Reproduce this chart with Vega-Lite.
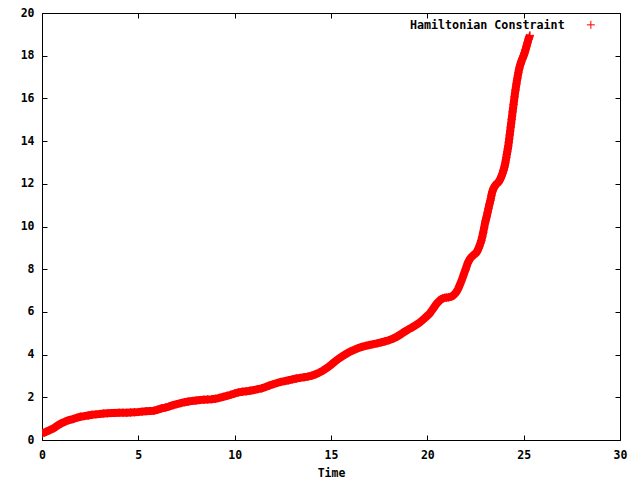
{
  "$schema": "https://vega.github.io/schema/vega-lite/v6.json",
  "autosize": "none",
  "width": 578,
  "height": 427,
  "padding": {"left": 42, "top": 13, "right": 20, "bottom": 40},
  "background": "white",
  "config": {
    "view": {"stroke": "black", "strokeWidth": 1},
    "axis": {"grid": false}
  },
  "data": {
    "values": [
      {"t": 0.0, "v": 0.30}, {"t": 0.2, "v": 0.38}, {"t": 0.4, "v": 0.46}, {"t": 0.6, "v": 0.55}, {"t": 0.8, "v": 0.67},
      {"t": 1.0, "v": 0.78}, {"t": 1.2, "v": 0.86}, {"t": 1.4, "v": 0.93}, {"t": 1.6, "v": 0.98}, {"t": 1.8, "v": 1.04},
      {"t": 2.0, "v": 1.09}, {"t": 2.2, "v": 1.12}, {"t": 2.4, "v": 1.15}, {"t": 2.6, "v": 1.18}, {"t": 2.8, "v": 1.20},
      {"t": 3.0, "v": 1.22}, {"t": 3.2, "v": 1.24}, {"t": 3.4, "v": 1.25}, {"t": 3.6, "v": 1.26}, {"t": 3.8, "v": 1.27},
      {"t": 4.0, "v": 1.28}, {"t": 4.2, "v": 1.28}, {"t": 4.4, "v": 1.28}, {"t": 4.6, "v": 1.29}, {"t": 4.8, "v": 1.30},
      {"t": 5.0, "v": 1.31}, {"t": 5.2, "v": 1.33}, {"t": 5.4, "v": 1.35}, {"t": 5.6, "v": 1.36}, {"t": 5.8, "v": 1.37},
      {"t": 6.0, "v": 1.42}, {"t": 6.2, "v": 1.48}, {"t": 6.4, "v": 1.52}, {"t": 6.6, "v": 1.57}, {"t": 6.8, "v": 1.63},
      {"t": 7.0, "v": 1.68}, {"t": 7.2, "v": 1.73}, {"t": 7.4, "v": 1.77}, {"t": 7.6, "v": 1.80}, {"t": 7.8, "v": 1.83},
      {"t": 8.0, "v": 1.85}, {"t": 8.2, "v": 1.87}, {"t": 8.4, "v": 1.89}, {"t": 8.6, "v": 1.90}, {"t": 8.8, "v": 1.91},
      {"t": 9.0, "v": 1.93}, {"t": 9.2, "v": 1.97}, {"t": 9.4, "v": 2.02}, {"t": 9.6, "v": 2.07}, {"t": 9.8, "v": 2.12},
      {"t": 10.0, "v": 2.18}, {"t": 10.2, "v": 2.23}, {"t": 10.4, "v": 2.26}, {"t": 10.6, "v": 2.28}, {"t": 10.8, "v": 2.31},
      {"t": 11.0, "v": 2.34}, {"t": 11.2, "v": 2.38}, {"t": 11.4, "v": 2.42}, {"t": 11.6, "v": 2.48}, {"t": 11.8, "v": 2.55},
      {"t": 12.0, "v": 2.61}, {"t": 12.2, "v": 2.67}, {"t": 12.4, "v": 2.72}, {"t": 12.6, "v": 2.76}, {"t": 12.8, "v": 2.80},
      {"t": 13.0, "v": 2.84}, {"t": 13.2, "v": 2.88}, {"t": 13.4, "v": 2.91}, {"t": 13.6, "v": 2.94}, {"t": 13.8, "v": 2.97},
      {"t": 14.0, "v": 3.01}, {"t": 14.2, "v": 3.08}, {"t": 14.4, "v": 3.16}, {"t": 14.6, "v": 3.26}, {"t": 14.8, "v": 3.38},
      {"t": 15.0, "v": 3.52}, {"t": 15.2, "v": 3.67}, {"t": 15.4, "v": 3.81}, {"t": 15.6, "v": 3.93}, {"t": 15.8, "v": 4.04},
      {"t": 16.0, "v": 4.14}, {"t": 16.2, "v": 4.22}, {"t": 16.4, "v": 4.30}, {"t": 16.6, "v": 4.36}, {"t": 16.8, "v": 4.41},
      {"t": 17.0, "v": 4.45}, {"t": 17.2, "v": 4.49}, {"t": 17.4, "v": 4.53}, {"t": 17.6, "v": 4.57}, {"t": 17.8, "v": 4.62},
      {"t": 18.0, "v": 4.67}, {"t": 18.2, "v": 4.74}, {"t": 18.4, "v": 4.83}, {"t": 18.6, "v": 4.94}, {"t": 18.8, "v": 5.06},
      {"t": 19.0, "v": 5.17}, {"t": 19.2, "v": 5.27}, {"t": 19.4, "v": 5.38}, {"t": 19.6, "v": 5.50}, {"t": 19.8, "v": 5.65},
      {"t": 20.0, "v": 5.82}, {"t": 20.1, "v": 5.90}, {"t": 20.2, "v": 6.02}, {"t": 20.3, "v": 6.15}, {"t": 20.4, "v": 6.28},
      {"t": 20.5, "v": 6.40}, {"t": 20.6, "v": 6.50}, {"t": 20.7, "v": 6.58}, {"t": 20.8, "v": 6.63}, {"t": 20.9, "v": 6.66},
      {"t": 21.0, "v": 6.67}, {"t": 21.1, "v": 6.68}, {"t": 21.2, "v": 6.70}, {"t": 21.3, "v": 6.74}, {"t": 21.4, "v": 6.82},
      {"t": 21.5, "v": 6.92}, {"t": 21.6, "v": 7.08}, {"t": 21.7, "v": 7.30}, {"t": 21.8, "v": 7.52}, {"t": 21.9, "v": 7.78},
      {"t": 22.0, "v": 8.02}, {"t": 22.05, "v": 8.16}, {"t": 22.1, "v": 8.29}, {"t": 22.15, "v": 8.38}, {"t": 22.2, "v": 8.46},
      {"t": 22.25, "v": 8.53}, {"t": 22.3, "v": 8.58}, {"t": 22.35, "v": 8.62}, {"t": 22.4, "v": 8.66}, {"t": 22.45, "v": 8.70},
      {"t": 22.5, "v": 8.74}, {"t": 22.55, "v": 8.78}, {"t": 22.6, "v": 8.86}, {"t": 22.65, "v": 8.96}, {"t": 22.7, "v": 9.07},
      {"t": 22.75, "v": 9.20}, {"t": 22.8, "v": 9.34}, {"t": 22.85, "v": 9.52}, {"t": 22.9, "v": 9.72}, {"t": 22.95, "v": 9.95},
      {"t": 23.0, "v": 10.18}, {"t": 23.025, "v": 10.27}, {"t": 23.05, "v": 10.36}, {"t": 23.075, "v": 10.45}, {"t": 23.1, "v": 10.55},
      {"t": 23.125, "v": 10.65}, {"t": 23.15, "v": 10.75}, {"t": 23.175, "v": 10.85}, {"t": 23.2, "v": 10.95}, {"t": 23.225, "v": 11.05},
      {"t": 23.25, "v": 11.14}, {"t": 23.275, "v": 11.23}, {"t": 23.3, "v": 11.33}, {"t": 23.325, "v": 11.45}, {"t": 23.35, "v": 11.55},
      {"t": 23.375, "v": 11.63}, {"t": 23.4, "v": 11.70}, {"t": 23.425, "v": 11.76}, {"t": 23.45, "v": 11.81}, {"t": 23.475, "v": 11.85},
      {"t": 23.5, "v": 11.89}, {"t": 23.525, "v": 11.92}, {"t": 23.55, "v": 11.95}, {"t": 23.575, "v": 11.98}, {"t": 23.6, "v": 12.00},
      {"t": 23.625, "v": 12.02}, {"t": 23.65, "v": 12.04}, {"t": 23.675, "v": 12.06}, {"t": 23.7, "v": 12.09}, {"t": 23.725, "v": 12.12},
      {"t": 23.75, "v": 12.16}, {"t": 23.775, "v": 12.20}, {"t": 23.8, "v": 12.25}, {"t": 23.825, "v": 12.30}, {"t": 23.85, "v": 12.36},
      {"t": 23.875, "v": 12.42}, {"t": 23.9, "v": 12.48}, {"t": 23.925, "v": 12.55}, {"t": 23.95, "v": 12.62}, {"t": 23.975, "v": 12.70},
      {"t": 24.0, "v": 12.78}, {"t": 24.025, "v": 12.88}, {"t": 24.05, "v": 12.99}, {"t": 24.075, "v": 13.11}, {"t": 24.1, "v": 13.24},
      {"t": 24.125, "v": 13.37}, {"t": 24.15, "v": 13.50}, {"t": 24.175, "v": 13.63}, {"t": 24.2, "v": 13.76}, {"t": 24.225, "v": 13.93},
      {"t": 24.25, "v": 14.11}, {"t": 24.275, "v": 14.29}, {"t": 24.3, "v": 14.47}, {"t": 24.325, "v": 14.65}, {"t": 24.35, "v": 14.83},
      {"t": 24.375, "v": 15.01}, {"t": 24.4, "v": 15.19}, {"t": 24.425, "v": 15.37}, {"t": 24.45, "v": 15.55}, {"t": 24.475, "v": 15.72},
      {"t": 24.5, "v": 15.90}, {"t": 24.525, "v": 16.07}, {"t": 24.55, "v": 16.24}, {"t": 24.575, "v": 16.39}, {"t": 24.6, "v": 16.54},
      {"t": 24.625, "v": 16.68}, {"t": 24.65, "v": 16.82}, {"t": 24.675, "v": 16.95}, {"t": 24.7, "v": 17.08}, {"t": 24.725, "v": 17.20},
      {"t": 24.75, "v": 17.31}, {"t": 24.775, "v": 17.41}, {"t": 24.8, "v": 17.50}, {"t": 24.825, "v": 17.58}, {"t": 24.85, "v": 17.65},
      {"t": 24.875, "v": 17.72}, {"t": 24.9, "v": 17.78}, {"t": 24.925, "v": 17.84}, {"t": 24.95, "v": 17.89}, {"t": 24.975, "v": 17.95},
      {"t": 25.0, "v": 18.01}, {"t": 25.025, "v": 18.07}, {"t": 25.05, "v": 18.14}, {"t": 25.075, "v": 18.21}, {"t": 25.1, "v": 18.29},
      {"t": 25.125, "v": 18.37}, {"t": 25.15, "v": 18.45}, {"t": 25.175, "v": 18.53}, {"t": 25.2, "v": 18.61}, {"t": 25.225, "v": 18.69},
      {"t": 25.25, "v": 18.77}, {"t": 25.275, "v": 18.84}, {"t": 25.3, "v": 18.90}, {"t": 25.325, "v": 18.95}
    ]
  },
  "resolve": {"axis": {"x": "independent", "y": "independent"}},
  "layer": [
    {
      "mark": {"type": "line", "color": "#ff0000", "strokeWidth": 8, "clip": true},
      "encoding": {
        "x": {"field": "t", "type": "quantitative", "scale": {"domain": [0, 30], "nice": false, "zero": false},
              "axis": {"orient": "top", "offset": -5, "domain": false, "labels": false, "tickSize": 5, "tickColor": "black", "tickWidth": 1, "title": null, "values": [0, 5, 10, 15, 20, 25, 30]}},
        "y": {"field": "v", "type": "quantitative", "scale": {"domain": [0, 20], "nice": false, "zero": false},
              "axis": {"orient": "right", "offset": -5, "domain": false, "labels": false, "tickSize": 5, "tickColor": "black", "tickWidth": 1, "title": null, "values": [0, 2, 4, 6, 8, 10, 12, 14, 16, 18, 20]}}
      }
    },
    {
      "mark": {"type": "point", "shape": "M-1,0H1M0,-1V1", "filled": false, "size": 64, "strokeWidth": 1, "color": "#ff0000", "clip": true},
      "encoding": {
        "x": {"field": "t", "type": "quantitative", "scale": {"domain": [0, 30], "nice": false, "zero": false},
              "axis": {"orient": "bottom", "offset": -5, "domain": false, "labels": false, "tickSize": 5, "tickColor": "black", "tickWidth": 1, "title": null, "values": [0, 5, 10, 15, 20, 25, 30]}},
        "y": {"field": "v", "type": "quantitative", "scale": {"domain": [0, 20], "nice": false, "zero": false},
              "axis": {"orient": "left", "offset": -5, "domain": false, "labels": false, "tickSize": 5, "tickColor": "black", "tickWidth": 1, "title": null, "values": [0, 2, 4, 6, 8, 10, 12, 14, 16, 18, 20]}}
      }
    },
    {
      "mark": {"type": "point", "shape": "M-1,0H1M0,-1V1", "filled": false, "size": 64, "strokeWidth": 1, "opacity": 1, "clip": true},
      "encoding": {
        "x": {"field": "t", "type": "quantitative", "scale": {"domain": [0, 30], "nice": false, "zero": false},
              "axis": {"orient": "bottom", "domain": false, "ticks": false, "title": "Time", "labelPadding": 9, "titlePadding": 7, "labelFlush": false, "labelOverlap": false,
                       "labelFont": "DejaVu Sans Mono", "labelFontWeight": "bold", "labelFontSize": 11.5, "labelColor": "black",
                       "titleFont": "DejaVu Sans Mono", "titleFontWeight": "bold", "titleFontSize": 11.5, "titleColor": "black",
                       "values": [0, 5, 10, 15, 20, 25, 30]}},
        "y": {"field": "v", "type": "quantitative", "scale": {"domain": [0, 20], "nice": false, "zero": false},
              "axis": {"orient": "left", "domain": false, "ticks": false, "title": null, "labelPadding": 8, "labelFlush": false, "labelOverlap": false,
                       "labelFont": "DejaVu Sans Mono", "labelFontWeight": "bold", "labelFontSize": 11.5, "labelColor": "black",
                       "values": [0, 2, 4, 6, 8, 10, 12, 14, 16, 18, 20]}},
        "color": {
          "datum": "Hamiltonian Constraint",
          "type": "nominal",
          "scale": {"range": ["#ff0000"]},
          "legend": {
            "title": null,
            "orient": "none",
            "legendX": 543,
            "legendY": 6,
            "padding": 0,
            "symbolType": "M-1,0H1M0,-1V1",
            "symbolSize": 64,
            "symbolStrokeWidth": 1,
            "symbolStrokeColor": "#ff0000",
            "symbolFillColor": "transparent",
            "labelAlign": "right",
            "labelOffset": -32,
            "labelFont": "DejaVu Sans Mono",
            "labelFontWeight": "bold",
            "labelFontSize": 11.7,
            "labelColor": "black"
          }
        }
      }
    }
  ]
}
